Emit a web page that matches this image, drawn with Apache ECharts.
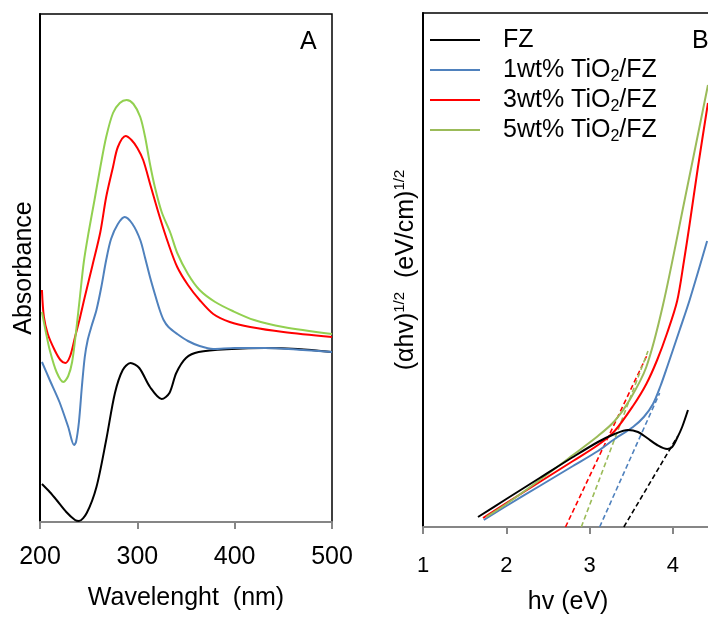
<!DOCTYPE html>
<html>
<head>
<meta charset="utf-8">
<script src="https://cdn.jsdelivr.net/npm/echarts@6/dist/echarts.min.js"></script>
<style>html,body{margin:0;padding:0;background:#fff}#c{width:708px;height:617px}</style>
</head>
<body>
<div id="c"></div>
<script>
// ---------- Panel A: absorbance vs wavelength (arbitrary units) ----------
const seriesNames = ['FZ', '1wt% TiO2/FZ', '3wt% TiO2/FZ', '5wt% TiO2/FZ'];
const xTicksA = [200, 300, 400, 500];
const absFZ = [[202,38],[210,30],[217,22],[227,10],[236,2],[240,1],[248,9],[258,35],[268,82],[277,129],[285,152],[293,159],[302,154],[313,135],[325,123],[333,129],[340,149],[350,164],[363,170],[397,173],[431,174],[465,173],[500,170]];
const abs1 = [[202,160],[210,142],[220,120],[229,95],[235,77],[237,80],[240,100],[243,135],[246,165],[249,182],[253,196],[258,212],[263,235],[268,262],[273,283],[280,298],[287,305],[295,298],[303,282],[308,264],[313,245],[318,228],[323,212],[327,202],[332,195],[341,188],[352,181],[364,176],[378,173],[400,174],[431,174],[470,172],[500,170]];
const abs3 = [[202,232],[204,205],[208,188],[215,172],[221,162],[226,159],[231,166],[236,185],[241,204],[246,225],[254,257],[262,290],[268,325],[275,355],[280,375],[288,386],[294,382],[300,374],[306,362],[314,335],[323,305],[332,278],[341,255],[352,237],[364,222],[378,208],[395,200],[416,195],[450,190],[500,185]];
const abs5 = [[202,210],[206,190],[210,172],[217,150],[224,140],[229,146],[233,160],[237,190],[241,225],[245,260],[250,290],[256,322],[262,355],[268,385],[275,409],[282,419],[289,422],[296,418],[303,405],[308,385],[313,358],[318,335],[325,310],[334,289],[341,269],[352,248],[364,232],[380,220],[398,211],[420,202],[450,195],[500,188]];

// ---------- Panel B: Tauc plot (arbitrary units) ----------
const xTicksB = [1, 2, 3, 4];
const taucFZ = [[1.66,10],[2.0,28],[2.4,49],[2.8,70],[3.1,85],[3.3,93],[3.46,97],[3.58,95],[3.69,89],[3.81,82],[3.93,78],[3.99,80],[4.05,89],[4.11,100],[4.18,117]];
const tauc1 = [[1.73,7],[2.0,21],[2.4,41],[2.8,61],[3.1,76],[3.3,88],[3.52,100],[3.65,110],[3.76,123],[3.85,141],[3.93,160],[4.08,197],[4.2,227],[4.41,286]];
const tauc3 = [[1.72,9],[2.0,24],[2.4,45],[2.8,66],[3.1,82],[3.3,96],[3.52,121],[3.68,143],[3.81,167],[3.93,194],[4.05,226],[4.13,265],[4.2,303],[4.3,360],[4.42,424]];
const tauc5 = [[1.76,10],[2.0,23],[2.4,47],[2.8,72],[3.1,91],[3.3,106],[3.48,127],[3.68,160],[3.88,222],[4.14,327],[4.42,442]];
const fitFZ = [[3.41,0],[4.05,90]];
const fit1 = [[3.12,0],[3.84,134]];
const fit3 = [[2.71,0],[3.69,172]];
const fit5 = [[2.90,0],[3.70,176]];

const colorsA = ['#000000', '#4F81BD', '#FF0000', '#92D050'];
const colorsB = ['#000000', '#4F81BD', '#FF0000', '#9BBB59'];
const FONT = 'Liberation Sans, Arial, sans-serif';

const chart = echarts.init(document.getElementById('c'), null, {renderer: 'canvas'});

function lineSeries(name, data, color, xi, yi, dashed) {
  return {
    name: name, type: 'line', xAxisIndex: xi, yAxisIndex: yi, data: data,
    showSymbol: false, symbol: 'none', smooth: dashed ? false : 0.3,
    lineStyle: {color: color, width: dashed ? 1.6 : 2, type: dashed ? [5, 3] : 'solid'},
    itemStyle: {color: color}, animation: false, z: dashed ? 3 : 4,
    emphasis: {disabled: true}
  };
}

const legendLabel = n => n.replace('TiO2', 'TiO{sub|2}');

const option = {
  animation: false,
  textStyle: {fontFamily: FONT},
  grid: [
    {left: 40, top: 14, width: 292, height: 508, show: true, borderColor: '#000', borderWidth: 1.5, backgroundColor: 'transparent', outerBoundsMode: 'none'},
    {left: 423, top: 13, width: 333.3, height: 514, show: true, borderColor: '#000', borderWidth: 1.5, backgroundColor: 'transparent', outerBoundsMode: 'none'}
  ],
  legend: {
    left: 425, top: 20, orient: 'vertical', itemWidth: 50, itemHeight: 2, itemGap: 0,
    icon: 'rect',
    data: seriesNames.map((n, i) => ({name: n, icon: 'rect', itemStyle: {color: colorsB[i]}})),
    formatter: legendLabel,
    selectedMode: false,
    textStyle: {
      fontFamily: FONT, fontSize: 25, color: '#000', lineHeight: 30, padding: [0, 0, 0, 18],
      rich: {sub: {fontSize: 16, lineHeight: 30, verticalAlign: 'bottom', fontFamily: FONT, color: '#000'}}
    }
  },
  xAxis: [
    {
      gridIndex: 0, type: 'value', min: 200, max: 500, interval: 100,
      name: 'Wavelenght  (nm)', nameLocation: 'middle', nameGap: 64,
      nameTextStyle: {fontSize: 25, color: '#000', fontFamily: FONT},
      axisLine: {show: true, lineStyle: {color: '#868686', width: 2}},
      axisTick: {show: true, inside: false, length: 7, lineStyle: {color: '#868686', width: 2}},
      axisLabel: {fontSize: 25, color: '#000', margin: 23, fontFamily: FONT,
        formatter: v => xTicksA.includes(v) ? String(v) : ''},
      splitLine: {show: false}
    },
    {
      gridIndex: 1, type: 'value', min: 1, max: 5, interval: 1,
      name: 'hv (eV)', nameLocation: 'middle', nameGap: 63,
      nameTextStyle: {fontSize: 25, color: '#000', fontFamily: FONT, padding: [0, 43, 0, 0]},
      axisLine: {show: true, lineStyle: {color: '#868686', width: 2}},
      axisTick: {show: true, inside: false, length: 7, lineStyle: {color: '#868686', width: 2}},
      axisLabel: {fontSize: 22, color: '#000', margin: 28, fontFamily: FONT,
        formatter: v => xTicksB.includes(v) ? String(v) : ''},
      splitLine: {show: false}
    }
  ],
  yAxis: [
    {
      gridIndex: 0, type: 'value', min: 0, max: 508,
      name: 'Absorbance', nameLocation: 'middle', nameGap: 3,
      nameTextStyle: {fontSize: 25, color: '#000', fontFamily: FONT},
      axisLine: {show: true, lineStyle: {color: '#000', width: 2}},
      axisTick: {show: false}, axisLabel: {show: false}, splitLine: {show: false}
    },
    {
      gridIndex: 1, type: 'value', min: 0, max: 514,
      name: '(αhv){sup|1/2}  (eV/cm){sup|1/2}', nameLocation: 'middle', nameGap: 3,
      nameTextStyle: {fontSize: 25, color: '#000', fontFamily: FONT, lineHeight: 28,
        rich: {sup: {fontSize: 15, lineHeight: 28, verticalAlign: 'top', color: '#000', fontFamily: FONT}}},
      axisLine: {show: true, lineStyle: {color: '#000', width: 2}},
      axisTick: {show: false}, axisLabel: {show: false}, splitLine: {show: false}
    }
  ],
  graphic: [
    {type: 'text', left: 300, top: 30, style: {text: 'A', fontSize: 25, fill: '#000', fontFamily: FONT}},
    {type: 'text', left: 692, top: 29, style: {text: 'B', fontSize: 25, fill: '#000', fontFamily: FONT}}
  ],
  series: [
    lineSeries(seriesNames[0], absFZ, colorsA[0], 0, 0),
    lineSeries(seriesNames[1], abs1, colorsA[1], 0, 0),
    lineSeries(seriesNames[2], abs3, colorsA[2], 0, 0),
    lineSeries(seriesNames[3], abs5, colorsA[3], 0, 0),
    lineSeries('fitFZ', fitFZ, colorsB[0], 1, 1, true),
    lineSeries('fit1', fit1, colorsB[1], 1, 1, true),
    lineSeries('fit3', fit3, colorsB[2], 1, 1, true),
    lineSeries('fit5', fit5, colorsB[3], 1, 1, true),
    lineSeries(seriesNames[1], tauc1, colorsB[1], 1, 1),
    lineSeries(seriesNames[2], tauc3, colorsB[2], 1, 1),
    lineSeries(seriesNames[3], tauc5, colorsB[3], 1, 1),
    lineSeries(seriesNames[0], taucFZ, colorsB[0], 1, 1)
  ]
};
chart.setOption(option);
</script>
</body>
</html>
